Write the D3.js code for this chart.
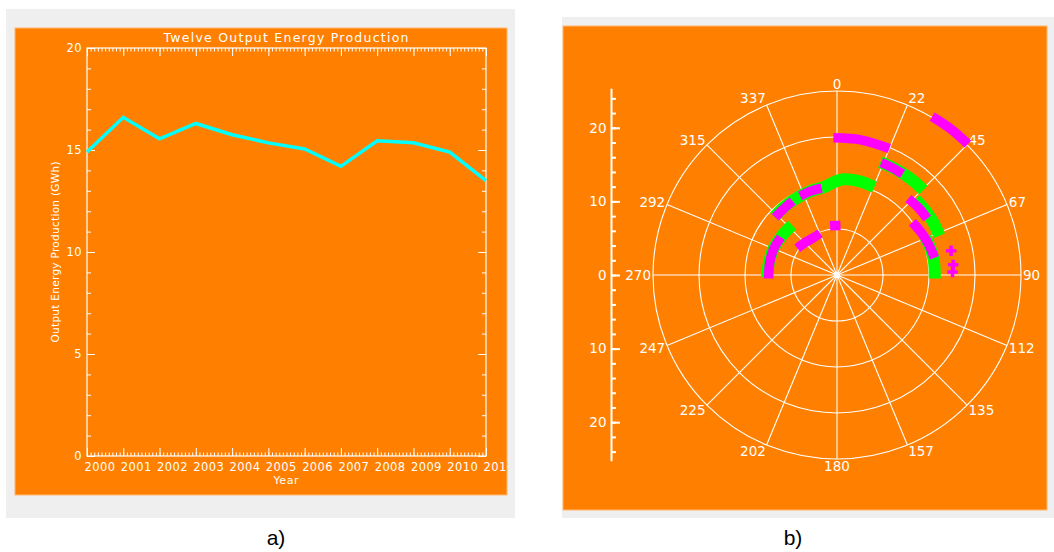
<!DOCTYPE html>
<html>
<head>
<meta charset="utf-8">
<script src="https://cdn.jsdelivr.net/npm/d3@7"></script>
<style>
  body { margin: 0; background: #fff; }
  svg { display: block; }
  .idl text { font-family: "DejaVu Sans", sans-serif; fill: #fff; }
</style>
</head>
<body>
<svg id="fig" width="1054" height="552"></svg>
<script>
// --- panel a) data
const years = [2000, 2001, 2002, 2003, 2004, 2005, 2006, 2007, 2008, 2009, 2010, 2011];
const production = [14.9, 16.6, 15.55, 16.3, 15.75, 15.35, 15.05, 14.2, 15.45, 15.35, 14.9, 13.5];
const yearLabels = ["2000", "2001", "2002", "2003", "2004", "2005", "2006", "2007", "2008", "2009", "2010", "2011"];
const prodTicks = [0, 5, 10, 15, 20];

// --- panel b) data: [angle in degrees, radius]
const greenArcs = [
  [[-47, 11.6], [-38, 11.7], [-28, 11.8], [-18, 11.95], [-8, 12.1], [-2, 12.6], [3, 13.0], [12, 13.1], [23, 13.0]],
  [[21, 16.45], [30, 16.45], [38, 16.45], [45.5, 16.45]],
  [[46, 14.8], [53, 14.85], [61, 14.9], [69, 14.9]],
  [[67, 13.05], [74, 13.2], [82, 13.3], [92, 13.3]],
  [[-92, 9.5], [-80, 9.4], [-67, 9.35], [-55, 9.2], [-42, 9.1]]
];
const magentaArcs = [
  [[-1.5, 18.65], [10, 18.65], [22.5, 18.6]],
  [[31, 25.1], [38, 25.15], [45, 25.15]],
  [[21.5, 16.4], [27, 16.4], [33, 16.4]],
  [[-47, 11.5], [-39, 11.55], [-31, 11.7]],
  [[-25, 11.85], [-17, 11.95], [-10, 12.0]],
  [[43, 14.2], [50, 14.35], [58, 14.45]],
  [[55, 12.5], [64, 12.85], [72, 13.15], [80, 13.45]],
  [[-93, 9.3], [-80, 9.3], [-68, 9.3], [-56, 9.2]],
  [[-56, 6.5], [-45, 6.2], [-34, 6.0], [-22, 6.1]],
  [[-8, 6.75], [4, 6.75]]
];
const magentaMarks = [[78, 15.85], [85, 15.85], [88.5, 15.7]];
const ringValues = [6.25, 12.5, 18.75, 25];
const spokeAngles = [0, 22.5, 45, 67.5, 90, 112.5, 135, 157.5, 180, 202.5, 225, 247.5, 270, 292.5, 315, 337.5];
const spokeLabels = ["0", "22", "45", "67", "90", "112", "135", "157", "180", "202", "225", "247", "270", "292", "315", "337"];
const sideTicks = [-20, -10, 0, 10, 20];

const svg = d3.select("#fig");
const orange = "#ff8000";

// ---------------- panel a)
svg.append("rect").attr("x", 6).attr("y", 9).attr("width", 509).attr("height", 509).attr("fill", "#efefef");
svg.append("defs").append("clipPath").attr("id", "clipA")
  .append("rect").attr("x", 15).attr("y", 28).attr("width", 492).attr("height", 467);
svg.append("rect").attr("x", 15).attr("y", 28).attr("width", 492).attr("height", 467)
  .attr("fill", orange).attr("stroke", "#ffb870").attr("stroke-width", 1);

const gA = svg.append("g").attr("class", "idl").attr("clip-path", "url(#clipA)");
const x = d3.scaleLinear().domain([2000, 2011]).range([87, 486]);
const y = d3.scaleLinear().domain([0, 20]).range([456, 48]);
const minorYears = d3.range(0, 111).map(i => 2000 + i / 10);

function styleAxis(g) {
  g.select(".domain").remove();
  g.selectAll("line").attr("stroke", "#fff");
  g.selectAll("text").attr("font-size", 11.5).attr("fill", "#fff").style("letter-spacing", "0.4px");
}

// bottom
gA.append("g").attr("transform", "translate(0,456)")
  .call(d3.axisBottom(x).tickValues(minorYears).tickSize(-3.5).tickFormat("")).call(styleAxis);
gA.append("g").attr("transform", "translate(0,456)")
  .call(d3.axisBottom(x).tickValues(years).tickSize(-8).tickPadding(7).tickFormat((d, i) => yearLabels[i]))
  .call(styleAxis)
  .call(g => g.selectAll("text").attr("text-anchor", "start").attr("dx", -3));
// top
gA.append("g").attr("transform", "translate(0,48)")
  .call(d3.axisTop(x).tickValues(minorYears).tickSize(-3.5).tickFormat("")).call(styleAxis);
gA.append("g").attr("transform", "translate(0,48)")
  .call(d3.axisTop(x).tickValues(years).tickSize(-8).tickFormat("")).call(styleAxis);
// left
gA.append("g").attr("transform", "translate(87,0)")
  .call(d3.axisLeft(y).ticks(20).tickSize(-4).tickFormat("")).call(styleAxis);
gA.append("g").attr("transform", "translate(87,0)")
  .call(d3.axisLeft(y).tickValues(prodTicks).tickSize(-8).tickPadding(5).tickFormat(d3.format("d"))).call(styleAxis);
// right
gA.append("g").attr("transform", "translate(486,0)")
  .call(d3.axisRight(y).ticks(20).tickSize(-4).tickFormat("")).call(styleAxis);
gA.append("g").attr("transform", "translate(486,0)")
  .call(d3.axisRight(y).tickValues(prodTicks).tickSize(-8).tickFormat("")).call(styleAxis);

gA.append("rect").attr("x", 87).attr("y", 48).attr("width", 399).attr("height", 408)
  .attr("fill", "none").attr("stroke", "#fff").attr("stroke-width", 1.2);

gA.append("path").datum(years.map((d, i) => [d, production[i]]))
  .attr("fill", "none").attr("stroke", "#00ffff").attr("stroke-width", 3.5)
  .attr("d", d3.line().x(d => x(d[0])).y(d => y(d[1])));

gA.append("text").attr("x", 286).attr("y", 42).attr("text-anchor", "middle").attr("font-size", 12.5)
  .attr("textLength", 245).attr("lengthAdjust", "spacing").text("Twelve Output Energy Production");
gA.append("text").attr("x", 286).attr("y", 484).attr("text-anchor", "middle").attr("font-size", 11)
  .attr("textLength", 25).attr("lengthAdjust", "spacing").text("Year");
gA.append("text").attr("transform", "translate(59,252) rotate(-90)").attr("text-anchor", "middle")
  .attr("font-size", 10.5).attr("textLength", 181).attr("lengthAdjust", "spacing")
  .text("Output Energy Production (GWh)");

// ---------------- panel b)
svg.append("rect").attr("x", 562).attr("y", 17).attr("width", 492).attr("height", 501).attr("fill", "#efefef");
svg.append("rect").attr("x", 563).attr("y", 26).attr("width", 484).attr("height", 484)
  .attr("fill", orange).attr("stroke", "#ffb870").attr("stroke-width", 1);

const cx = 837, cy = 275;
const r = d3.scaleLinear().domain([0, 25]).range([0, 184]);
const gB = svg.append("g").attr("class", "idl");
const gP = gB.append("g").attr("transform", `translate(${cx},${cy})`);
const rad = a => a * Math.PI / 180;

gP.selectAll(".ring").data(ringValues).join("circle")
  .attr("r", d => r(d)).attr("fill", "none").attr("stroke", "#fff").attr("stroke-width", 1.1);
gP.selectAll(".spoke").data(spokeAngles).join("line")
  .attr("x2", d => r(25) * Math.sin(rad(d))).attr("y2", d => -r(25) * Math.cos(rad(d)))
  .attr("stroke", "#fff").attr("stroke-width", 1.1);
gP.append("circle").attr("r", 3).attr("fill", "#fff");

gP.selectAll(".lab").data(spokeAngles).join("text")
  .attr("font-size", 13.5)
  .attr("x", d => (r(25) + 2) * Math.sin(rad(d)))
  .attr("y", d => -r(25) * Math.cos(rad(d)) - 7 * Math.cos(rad(d)))
  .attr("dy", "0.35em")
  .attr("text-anchor", d => Math.abs(Math.sin(rad(d))) < 0.01 ? "middle" : (Math.sin(rad(d)) > 0 ? "start" : "end"))
  .text((d, i) => spokeLabels[i]);

const radial = d3.lineRadial().angle(d => rad(d[0])).radius(d => r(d[1])).curve(d3.curveCatmullRom);
gP.selectAll(".g").data(greenArcs).join("path")
  .attr("d", radial).attr("fill", "none").attr("stroke", "#00ff00").attr("stroke-width", 12);
gP.selectAll(".m").data(magentaArcs).join("path")
  .attr("d", radial).attr("fill", "none").attr("stroke", "#ff00ff").attr("stroke-width", 9.5);
gP.selectAll(".mk").data(magentaMarks).join("path")
  .attr("transform", d => `translate(${r(d[1]) * Math.sin(rad(d[0]))},${-r(d[1]) * Math.cos(rad(d[0]))})`)
  .attr("d", d3.symbol(d3.symbolCross, 60)).attr("fill", "#ff00ff");

// side axis
const ys = d3.scaleLinear().domain([-25, 25]).range([cy + r(25), cy - r(25)]);
gB.append("line").attr("x1", 611.5).attr("x2", 611.5).attr("y1", ys(25.3)).attr("y2", ys(-25.3))
  .attr("stroke", "#fff").attr("stroke-width", 2);
gB.append("g").attr("transform", "translate(611.5,0)")
  .call(d3.axisLeft(ys).tickValues(d3.range(-24, 25, 2)).tickSize(-4.5).tickFormat(""))
  .call(g => { g.select(".domain").remove(); g.selectAll("line").attr("stroke", "#fff").attr("stroke-width", 2); });
gB.append("g").attr("transform", "translate(611.5,0)")
  .call(d3.axisLeft(ys).tickValues(sideTicks).tickSize(-8.5).tickPadding(5).tickFormat(d => Math.abs(d)))
  .call(g => {
    g.select(".domain").remove();
    g.selectAll("line").attr("stroke", "#fff").attr("stroke-width", 2);
    g.selectAll("text").attr("font-size", 13.5).attr("fill", "#fff");
  });

// captions
svg.append("text").attr("x", 276).attr("y", 545).attr("text-anchor", "middle")
  .attr("font-family", "Liberation Sans, Arial, sans-serif").attr("font-size", 21).text("a)");
svg.append("text").attr("x", 793).attr("y", 545).attr("text-anchor", "middle")
  .attr("font-family", "Liberation Sans, Arial, sans-serif").attr("font-size", 21).text("b)");
</script>
</body>
</html>
